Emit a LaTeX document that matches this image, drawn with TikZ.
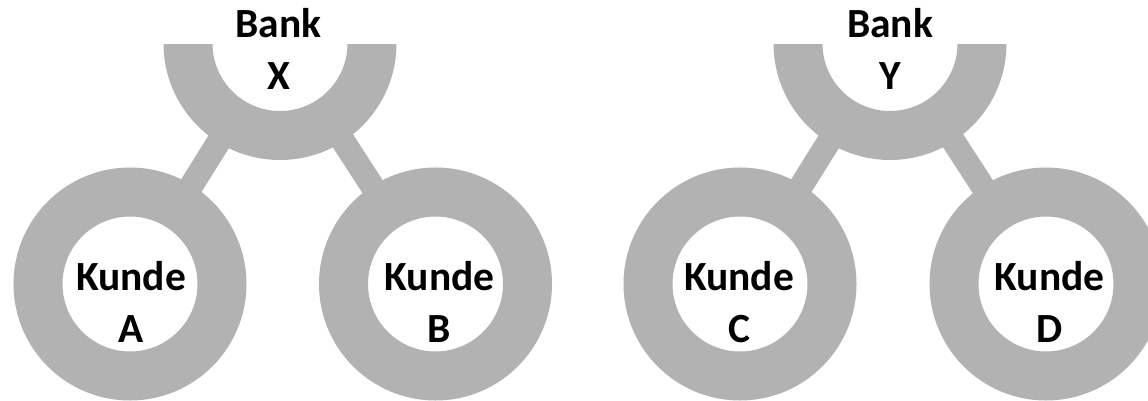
\documentclass[tikz,border=0pt]{standalone}
\usepackage{fontspec}
\setmainfont{Carlito}
\definecolor{ringgray}{RGB}{178,178,178}
\begin{document}
\begin{tikzpicture}[x=1pt,y=-1pt,
  ring/.style={circle, draw=ringgray, line width=49pt, minimum size=184pt,
    inner sep=0pt, outer sep=0pt},
  link/.style={draw=ringgray, line width=24pt},
  lbl/.style={font=\bfseries\fontsize{41.5}{52}\selectfont, align=center,
    inner sep=0pt, text=black}]
\useasboundingbox (0,0) rectangle (1148,401);
\clip (0,0) rectangle (1148,401);

% bank rings, cut off along the top
\begin{scope}
  \clip (0,45) rectangle (1148,401);
  \node[ring] (X) at (280,43.5) {};
  \node[ring] (Y) at (890,43.5) {};
\end{scope}

% customer rings
\node[ring] (A) at (130,284) {};
\node[ring] (B) at (435.5,284) {};
\node[ring] (C) at (740,284) {};
\node[ring] (D) at (1046,284) {};

% bank-to-customer links
\draw[link] (X) -- (A);
\draw[link] (X) -- (B);
\draw[link] (Y) -- (C);
\draw[link] (Y) -- (D);

% labels
\node[lbl] (tX) at (278.5,48.5) {Bank\\X};
\node[lbl] (tY) at (890,48.5) {Bank\\Y};
\node[lbl] (tA) at (131,302) {Kunde\\A};
\node[lbl] (tB) at (439.5,302) {Kunde\\B};
\node[lbl] (tC) at (739,302) {Kunde\\C};
\node[lbl] (tD) at (1049.5,302) {Kunde\\D};
\end{tikzpicture}
\end{document}
